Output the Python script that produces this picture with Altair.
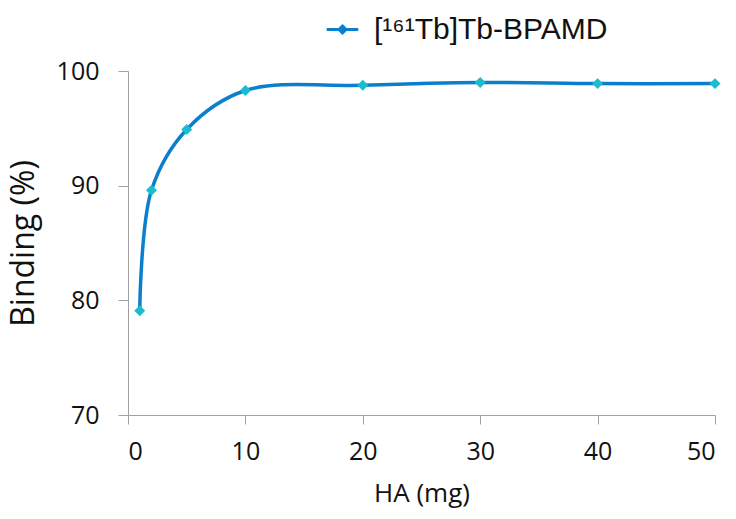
import altair as alt
import pandas as pd

ha_mg = [1, 2, 5, 10, 20, 30, 40, 50]
binding = [79.1, 89.6, 94.9, 98.3, 98.75, 99.0, 98.9, 98.9]
series_name = "[\u00b9\u2076\u00b9Tb]Tb-BPAMD"

df = pd.DataFrame({"HA": ha_mg, "Binding": binding, "series": [series_name] * len(ha_mg)})

LINE = "#0b7fcc"
MARK = "#1dbbd0"
FONT = "Open Sans"
AX = "#a0a0a0"

x = alt.X("HA:Q", title="HA (mg)",
          scale=alt.Scale(domain=[0, 50], nice=False),
          axis=alt.Axis(values=[0, 10, 20, 30, 40, 50], grid=False, domainColor=AX,
                        tickColor=AX, tickSize=9, labelFontSize=25, titleFontSize=26,
                        labelFont=FONT, titleFont=FONT, labelColor="#111", titleColor="#111",
                        labelPadding=15, titlePadding=16, titleFontWeight="normal"))
y = alt.Y("Binding:Q", title="Binding (%)",
          scale=alt.Scale(domain=[70, 100], nice=False, zero=False),
          axis=alt.Axis(values=[70, 80, 90, 100], grid=False, domainColor=AX,
                        tickColor=AX, tickSize=10, labelFontSize=25, titleFontSize=32,
                        labelFont=FONT, titleFont=FONT, labelColor="#111", titleColor="#111",
                        labelPadding=19, titlePadding=16, titleFontWeight="normal"))

line = alt.Chart(df).mark_line(strokeWidth=3.5, interpolate="catmull-rom").encode(
    x=x, y=y,
    color=alt.Color("series:N", scale=alt.Scale(range=[LINE]),
                    legend=alt.Legend(title=None, orient="none", legendX=197, legendY=-59,
                                      symbolType="M-1,0L1,0M0,-0.22L0.22,0L0,0.22L-0.22,0Z",
                                      symbolSize=1000, symbolStrokeWidth=3,
                                      symbolFillColor=MARK, symbolStrokeColor=LINE,
                                      labelFont="Liberation Sans", labelFontSize=30,
                                      labelLimit=400,
                                      labelColor="#111", labelOffset=14)),
)
points = alt.Chart(df).mark_point(shape="diamond", filled=True, size=120, color=MARK, opacity=1).encode(
    x=x, y=y
)

chart = alt.layer(line, points).properties(
    width=587, height=344,
    autosize=alt.AutoSizeParams(type="none"),
    padding={"left": 128, "top": 71, "right": 21, "bottom": 104},
    background="white",
).configure_view(stroke=None)

chart.save("out.html", embed_options={"renderer": "svg", "actions": False})
